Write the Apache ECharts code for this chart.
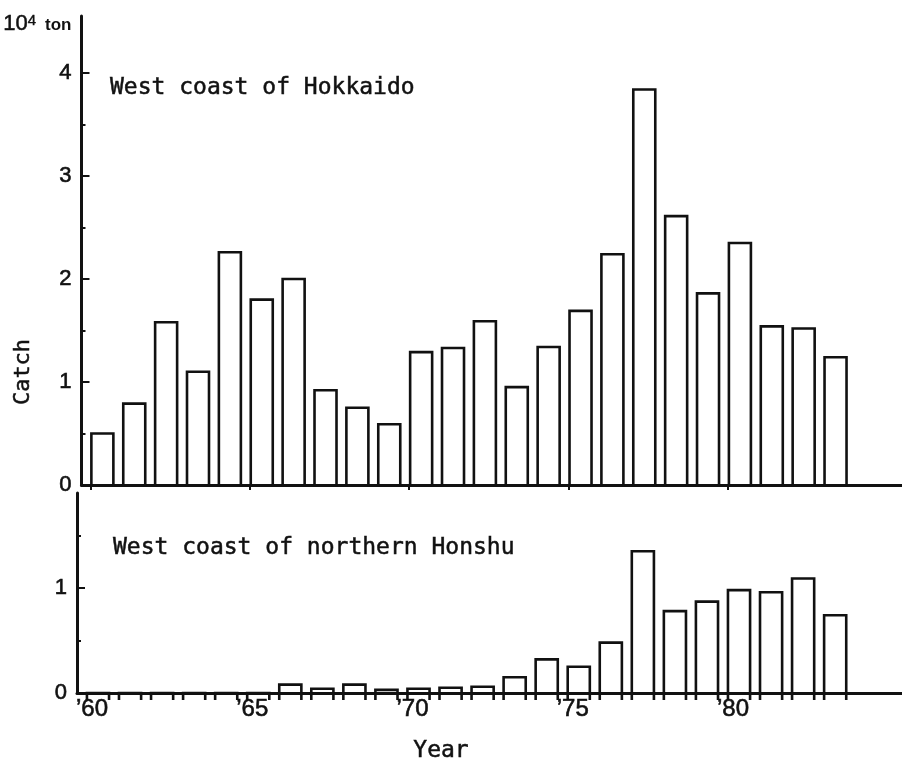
<!DOCTYPE html>
<html>
<head>
<meta charset="utf-8">
<script src="https://cdn.jsdelivr.net/npm/echarts@6/dist/echarts.min.js"></script>
<style>
  html, body { margin: 0; padding: 0; background: #fff; }
  #chart { width: 902px; height: 764px; }
</style>
</head>
<body>
<div id="chart"></div>
<script>
// catch, 10^4 ton
var years = [1960, 1961, 1962, 1963, 1964, 1965, 1966, 1967, 1968, 1969, 1970, 1971,
             1972, 1973, 1974, 1975, 1976, 1977, 1978, 1979, 1980, 1981, 1982, 1983];
var hokkaido = [0.50, 0.79, 1.58, 1.10, 2.26, 1.80, 2.00, 0.92, 0.75, 0.59, 1.29, 1.33,
                1.59, 0.95, 1.34, 1.69, 2.24, 3.84, 2.61, 1.86, 2.35, 1.54, 1.52, 1.24];
var honshu = [0, 0, 0, 0, 0, 0, 0.08, 0.04, 0.08, 0.03, 0.04, 0.05,
              0.06, 0.15, 0.32, 0.25, 0.48, 1.35, 0.78, 0.87, 0.98, 0.96, 1.09, 0.74];
var yearTicks = [1960, 1965, 1970, 1975, 1980];
var topLabels = [0, 1, 2, 3, 4];
var topMajor = [1, 2, 3, 4];
var topMinor = [0.5, 1.5, 2.5, 3.5];
var lowLabels = [0, 1];
var lowMajor = [1];
var lowMinor = [0.5, 1.5];

var ink = '#111';
var mono = '"DejaVu Sans Mono", monospace';
var sans = '"Liberation Sans", Arial, sans-serif';

function pairs(vals) {
    return years.map(function (y, i) { return [y, vals[i]]; });
}

// bar drawn from the start of the year, open at the bottom so the sides poke below the axis
function barItem(ext) {
    return function (params, api) {
        var yr = api.value(0);
        var top = api.coord([yr + 0.03, api.value(1)]);
        var base = api.coord([yr + 0.72, 0]);
        return {
            type: 'polyline',
            shape: {
                points: [[top[0], base[1] + ext], [top[0], top[1]], [base[0], top[1]], [base[0], base[1] + ext]]
            },
            style: { fill: 'none', stroke: ink, lineWidth: 2.6 }
        };
    };
}

function xAxisOf(grid, showLabels) {
    return {
        type: 'value',
        gridIndex: grid,
        min: 1959.72,
        max: 1985.46,
        splitLine: { show: false },
        axisLine: { lineStyle: { color: ink, width: 3 } },
        axisTick: {
            show: !showLabels,
            customValues: yearTicks,
            length: 5,
            lineStyle: { color: ink, width: 2 }
        },
        axisLabel: {
            show: showLabels,
            customValues: yearTicks,
            formatter: function (v) { return '\u2019' + String(v).slice(2); },
            color: ink,
            fontFamily: sans,
            fontSize: 24,
            margin: 4,
            padding: [0, 0, 0, 12],
            textBorderColor: ink,
            textBorderWidth: 0.6
        }
    };
}

function yAxisOf(grid, max, labels, major) {
    return {
        type: 'value',
        gridIndex: grid,
        min: 0,
        max: max,
        splitLine: { show: false },
        axisLine: { show: true, lineStyle: { color: ink, width: 3 } },
        axisTick: { inside: true, customValues: major, length: 8, lineStyle: { color: ink, width: 2 } },
        axisLabel: {
            customValues: labels, color: ink, fontFamily: sans, fontSize: 22, margin: 10,
            textBorderColor: ink, textBorderWidth: 0.6
        }
    };
}

function minorAxisOf(grid, max, minor) {
    return {
        type: 'value',
        gridIndex: grid,
        position: 'left',
        min: 0,
        max: max,
        splitLine: { show: false },
        axisLine: { show: false },
        axisTick: { show: true, inside: true, customValues: minor, length: 4, lineStyle: { color: ink, width: 2 } },
        axisLabel: { show: false }
    };
}

var myChart = echarts.init(document.getElementById('chart'));

var topY = yAxisOf(0, 4.553, topLabels, topMajor);
topY.name = '{a|10}{b|4}{c|ton}';
topY.nameLocation = 'end';
topY.nameGap = -8;
topY.nameTextStyle = {
    align: 'right',
    verticalAlign: 'middle',
    padding: [0, 10, 0, 0],
    rich: {
        a: { fontFamily: sans, fontSize: 22, color: ink, verticalAlign: 'bottom', textBorderColor: ink, textBorderWidth: 0.5 },
        b: { fontFamily: sans, fontSize: 15, color: ink, verticalAlign: 'top', textBorderColor: ink, textBorderWidth: 0.4 },
        c: { fontFamily: sans, fontSize: 17, fontWeight: 'bold', color: ink, verticalAlign: 'bottom', padding: [0, 0, 1, 9] }
    }
};

var textStyle = function (txt, size, extra) {
    var s = { text: txt, font: size + 'px ' + mono, fill: ink, stroke: ink, lineWidth: 0.5, verticalAlign: 'middle' };
    for (var k in extra) { s[k] = extra[k]; }
    return s;
};

myChart.setOption({
    animation: false,
    backgroundColor: '#fff',
    grid: [
        { left: 77, top: 16, width: 825, height: 469 },
        { left: 77, top: 493, width: 825, height: 200 }
    ],
    xAxis: [xAxisOf(0, false), xAxisOf(1, true)],
    yAxis: [
        topY,
        yAxisOf(1, 1.905, lowLabels, lowMajor),
        minorAxisOf(0, 4.553, topMinor),
        minorAxisOf(1, 1.905, lowMinor)
    ],
    series: [
        {
            type: 'custom',
            name: 'West coast of Hokkaido',
            xAxisIndex: 0,
            yAxisIndex: 0,
            renderItem: barItem(2),
            data: pairs(hokkaido)
        },
        {
            type: 'custom',
            name: 'West coast of northern Honshu',
            xAxisIndex: 1,
            yAxisIndex: 1,
            renderItem: barItem(7),
            data: pairs(honshu)
        }
    ],
    graphic: [
        { type: 'text', x: 110, y: 88, style: textStyle('West coast of Hokkaido', 23, {}) },
        { type: 'text', x: 113, y: 548, style: textStyle('West coast of northern Honshu', 23, {}) },
        { type: 'text', x: 23, y: 372, rotation: Math.PI / 2, style: textStyle('Catch', 22, { align: 'center' }) },
        { type: 'text', x: 441, y: 751, style: textStyle('Year', 23, { align: 'center' }) }
    ]
});
</script>
</body>
</html>
